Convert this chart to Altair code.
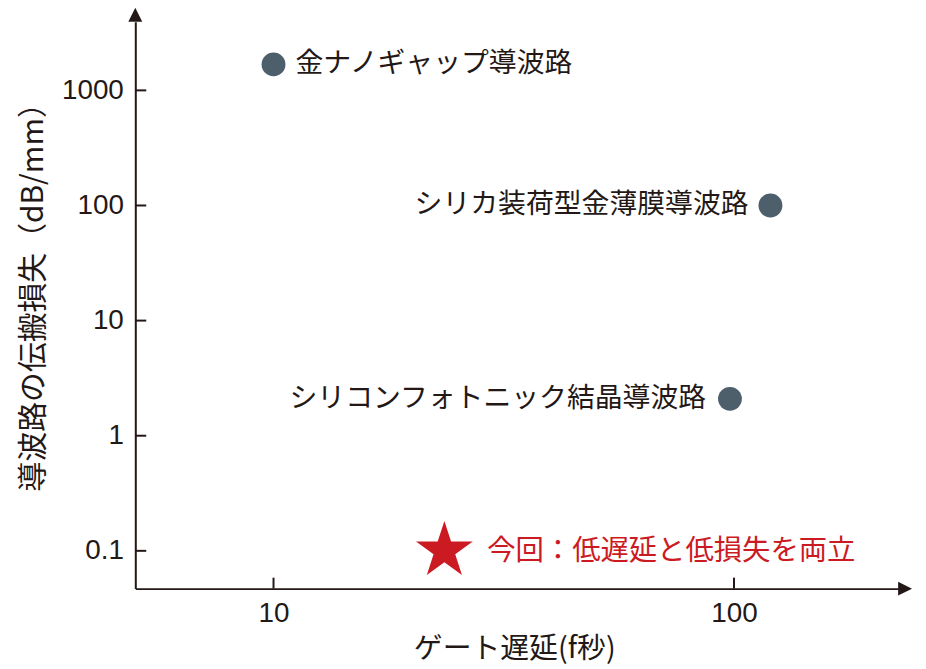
import altair as alt
import pandas as pd

# ---- data ----
names = ["金ナノギャップ導波路", "シリカ装荷型金薄膜導波路", "シリコンフォトニック結晶導波路"]
gate_delay = [10, 120, 98]          # fs
loss = [1680, 100, 2.09]            # dB/mm
label_align = ["left", "right", "right"]
label_dx = [22, -22, -24]

this_name = "今回：低遅延と低損失を両立"
this_delay = [23.5]
this_loss = [0.1]

x_ticks = [10, 100]
y_ticks = [0.1, 1, 10, 100, 1000]

x_title = "ゲート遅延(f秒)"
y_title = "導波路の伝搬損失（dB/mm）"

# ---- style ----
INK = "#231815"
DOT = "#4d5f6b"
RED = "#cc1a22"
JP = "Noto Sans CJK JP"
NUM = "Liberation Sans"
W, H = 767, 570

xscale = alt.Scale(type="log", domain=[5.01, 227.2], nice=False)
yscale = alt.Scale(type="log", domain=[0.04695, 3946], nice=False)

df = pd.DataFrame({"name": names, "gate_delay": gate_delay, "loss": loss})
df_this = pd.DataFrame({"name": [this_name], "gate_delay": this_delay, "loss": this_loss})
df_xt = pd.DataFrame({"gate_delay": x_ticks})
df_yt = pd.DataFrame({"loss": y_ticks})
one = pd.DataFrame({"a": [0]})

common_axis = dict(
    grid=False, ticks=False, tickSize=0,
    domainColor=INK, domainWidth=2,
    labelFont=NUM, labelFontSize=28, labelColor=INK,
    titleFont=JP, titleFontWeight="normal", titleColor=INK,
    titleBaseline="middle", titleAlign="center",
)

xenc = alt.X("gate_delay:Q", scale=xscale,
             axis=alt.Axis(values=x_ticks, format="~g", title=x_title,
                           labelPadding=11, titleX=381, titleY=60, titleFontSize=29,
                           **common_axis))
yenc = alt.Y("loss:Q", scale=yscale,
             axis=alt.Axis(values=y_ticks, format="~g", title=y_title,
                           labelPadding=12, titleX=-102, titleY=269, titleAngle=270,
                           titleFontSize=30, **common_axis))

dots = alt.Chart(df).mark_point(filled=True, shape="circle", size=576,
                                 color=DOT, opacity=1, strokeWidth=0).encode(x=xenc, y=yenc)

star_path = ("M0,-1L0.2245,-0.309L0.951,-0.309L0.3633,0.118L0.588,0.809L0,0.382"
             "L-0.588,0.809L-0.3633,0.118L-0.951,-0.309L-0.2245,-0.309Z")
star = alt.Chart(df_this).mark_point(filled=True, shape=star_path, size=3600,
                                     color=RED, opacity=1, strokeWidth=0).encode(x=xenc, y=yenc)

star_text = alt.Chart(df_this).mark_text(align="left", baseline="middle", dx=43,
                                         font=JP, fontSize=28.5, color=RED).encode(
    x=xenc, y=yenc, text="name:N")

texts = []
for nm, al, dx in zip(names, label_align, label_dx):
    texts.append(
        alt.Chart(df).transform_filter(alt.datum.name == nm)
        .mark_text(align=al, baseline="middle", dx=dx, font=JP, fontSize=28, color=INK)
        .encode(x=xenc, y=yenc, text="name:N"))

yticks = alt.Chart(df_yt).mark_rule(color=INK, strokeWidth=2).encode(
    y=yenc, x=alt.value(0), x2=alt.value(11))
xticks = alt.Chart(df_xt).mark_rule(color=INK, strokeWidth=2).encode(
    x=xenc, y=alt.value(H), y2=alt.value(H - 11))

arrow_up = alt.Chart(one).mark_point(filled=True, shape="M0,-1L1,1L-1,1Z", size=196,
                                     color=INK, opacity=1, strokeWidth=0).encode(
    x=alt.value(0), y=alt.value(-7))
arrow_right = alt.Chart(one).mark_point(filled=True, shape="M1,0L-1,1L-1,-1Z", size=196,
                                        color=INK, opacity=1, strokeWidth=0).encode(
    x=alt.value(W + 7), y=alt.value(H))

chart = alt.layer(dots, yticks, xticks, arrow_up, arrow_right, star, star_text, *texts).properties(
    width=W, height=H,
    autosize=alt.AutoSizeParams(type="none"),
    padding={"left": 128, "top": 12, "right": 20, "bottom": 79},
).configure(background="white").configure_view(strokeWidth=0, stroke=None)

chart.save("out.html", embed_options={"renderer": "svg", "actions": False})
